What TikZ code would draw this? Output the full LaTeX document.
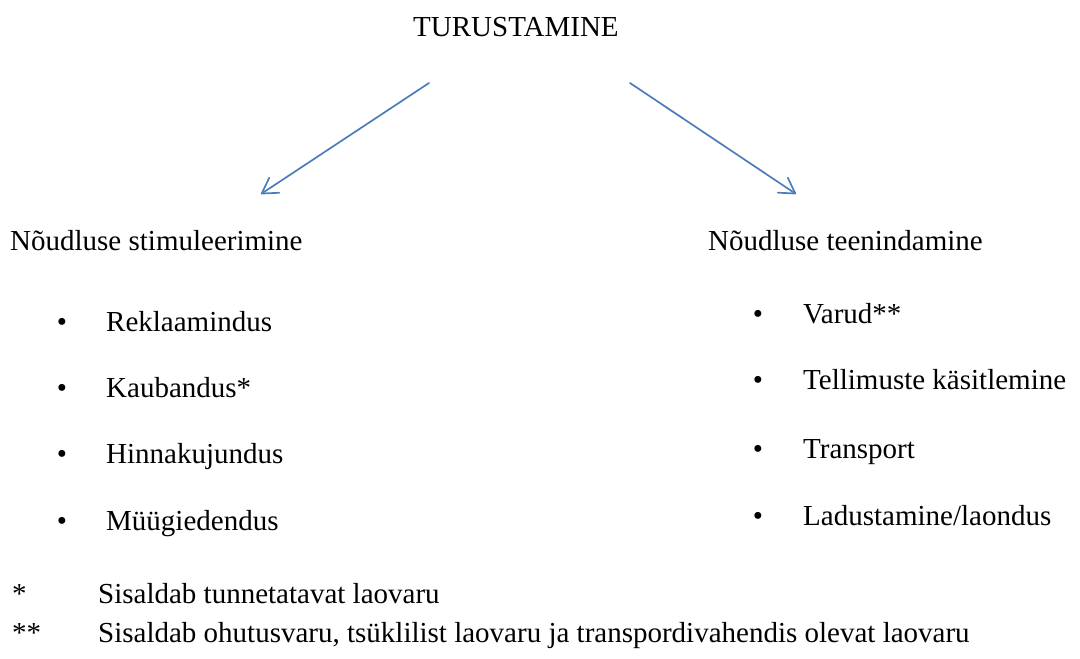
\documentclass[tikz,border=0pt]{standalone}
\usepackage{fontspec}
\setmainfont{Liberation Serif}
\usetikzlibrary{arrows.meta}
\definecolor{arrowblue}{RGB}{74,126,187}
\begin{document}
\begin{tikzpicture}[x=1pt,y=-1pt,
  txt/.style={anchor=base west, inner sep=0pt, font=\fontsize{29}{34}\selectfont},
  bul/.style={anchor=base, inner sep=0pt, font=\fontsize{29}{34}\selectfont},
  link/.style={draw=arrowblue, line width=1.7pt, line cap=round,
    -{Straight Barb[length=15pt,width=18pt,round]}}]
\useasboundingbox (0,0) rectangle (1080,659);

% title
\node[txt] (top) at (413,36) {TURUSTAMINE};

% arrows to the two branches
\coordinate (la) at (429,83);
\coordinate (lb) at (261,194);
\coordinate (ra) at (630,83);
\coordinate (rb) at (796,194);
\draw[link] (la) -- (lb);
\draw[link] (ra) -- (rb);

% left branch
\node[txt] (lhead) at (10,250) {Nõudluse stimuleerimine};
\foreach \y/\t [count=\i] in {331/{Reklaamindus}, 397/{Kaubandus*}, 463/{Hinnakujundus}, 530/{Müügiedendus}} {
  \node[bul] (lbul\i) at (62,\y) {•};
  \node[txt] (litem\i) at (106,\y) {\t};
}

% right branch
\node[txt] (rhead) at (708,250) {Nõudluse teenindamine};
\foreach \y/\t [count=\i] in {323/{Varud**}, 389/{Tellimuste käsitlemine}, 458/{Transport}, 525/{Ladustamine/laondus}} {
  \node[bul] (rbul\i) at (758,\y) {•};
  \node[txt] (ritem\i) at (803,\y) {\t};
}

% footnotes
\node[txt] (fmark1) at (12,603) {*};
\node[txt] (fnote1) at (98,603) {Sisaldab tunnetatavat laovaru};
\node[txt] (fmark2) at (12,642) {**};
\node[txt] (fnote2) at (98,642) {Sisaldab ohutusvaru, tsüklilist laovaru ja transpordivahendis olevat laovaru};
\end{tikzpicture}
\end{document}
